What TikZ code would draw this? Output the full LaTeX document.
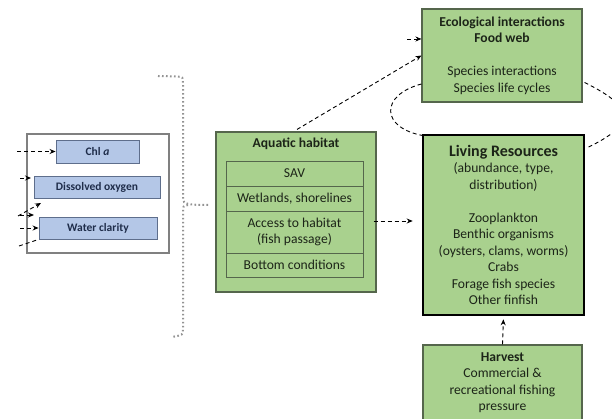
\documentclass[tikz,border=0pt]{standalone}
\usepackage{fontspec}
\setmainfont{Carlito}
\usetikzlibrary{arrows.meta,calc}
\definecolor{gfill}{HTML}{A9D18E}
\definecolor{gborder}{HTML}{55664C}
\definecolor{txt}{HTML}{1C2418}
\definecolor{bfill}{HTML}{B4C7E7}
\definecolor{bborder}{HTML}{5E6E8C}
\definecolor{btxt}{HTML}{1F2D4A}
\newcommand\mainsz{\fontsize{13.6}{16.5}\selectfont}
\newcommand\titsz{\fontsize{13.6}{16.5}\selectfont\bfseries}
\begin{document}
\begin{tikzpicture}[x=1pt,y=-1pt,
  gbox/.style={draw=gborder, fill=gfill, line width=1.1pt, inner sep=0pt, align=center, text=txt, font=\mainsz},
  rowbox/.style={draw=gborder, fill=gfill, line width=0.9pt, inner sep=0pt, align=center, text=txt, font=\mainsz, minimum width=137pt},
  bbox/.style={draw=bborder, fill=bfill, line width=0.9pt, inner sep=0pt, text=btxt, font=\fontsize{11.5}{13}\selectfont\bfseries},
  dar/.style={draw=black, line width=0.9pt, dash pattern=on 4pt off 3pt, -{Stealth[length=6pt,width=5pt]}},
  dln/.style={draw=black, line width=0.9pt, dash pattern=on 4pt off 3pt},
  dotln/.style={draw=gray!85, line width=2pt, dash pattern=on 1.6pt off 2.4pt},
]
\useasboundingbox (0,0) rectangle (612,419);

% Left panel
\node[draw=gray, line width=1.2pt, fill=white, minimum width=142pt, minimum height=119pt, inner sep=0pt] (panel) at (98,193.5) {};
\node[bbox, minimum width=83pt, minimum height=23pt] (chl) at (97.5,151.5) {Chl \textit{a}};
\node[bbox, minimum width=126pt, minimum height=22pt] (do) at (97,187) {Dissolved oxygen};
\node[bbox, minimum width=118pt, minimum height=22pt] (wc) at (98,228) {Water clarity};

\coordinate (l1) at (17,151.5);
\coordinate (l2) at (20,178);
\coordinate (l2e) at (31,178);
\coordinate (l3) at (18,216);
\coordinate (l3e) at (41,203);
\coordinate (l4) at (20,215);
\coordinate (l4e) at (34,215);
\coordinate (l5) at (20,228);
\coordinate (l6) at (19,246);
\draw[dar] (l1) -- (chl.west);
\draw[dar] (l2) -- (l2e);
\draw[dar] (l3) -- (l3e);
\draw[dar] (l4) -- (l4e);
\draw[dar] (l5) -- (wc.west);
\draw[dln] (l6) -- (wc.south west);

% Brace
\coordinate (b1) at (158,76);
\coordinate (b2) at (208,205);
\coordinate (b3) at (172,337);
\draw[dotln] (b1) -- (177,76.5) .. controls (183,77) .. (183,83) -- (183,199)
  .. controls (183,204) and (188,205) .. (b2);
\draw[dotln] (188,205) .. controls (183,206) .. (183,212) -- (183,329) .. controls (183,335) .. (b3);

% Aquatic habitat
\node[gbox, minimum width=160pt, minimum height=160pt] (aq) at (296,212) {};
\node[text=txt, font=\titsz] (aqt) at (296,144) {Aquatic habitat};
\node[rowbox, minimum height=25pt] (sav) at (294.5,173.5) {SAV};
\node[rowbox, minimum height=25pt] (wet) at (294.5,198.5) {Wetlands, shorelines};
\node[rowbox, minimum height=42pt] (acc) at (294.5,232) {Access to habitat\\(fish passage)};
\node[rowbox, minimum height=24pt] (bot) at (294.5,265) {Bottom conditions};

% Ecological interactions
\node[gbox, minimum width=160pt, minimum height=93pt] (eco) at (502,55.5)
  {\textbf{Ecological interactions}\\\textbf{Food web}\\[16.5pt]Species interactions\\Species life cycles};

% Living resources
\node[gbox, draw=black, line width=2.6pt, minimum width=161pt, minimum height=180pt] (lr) at (503.5,225)
  {{\fontsize{16}{18}\selectfont\bfseries Living Resources}\\(abundance, type,\\distribution)\\[16.5pt]Zooplankton\\Benthic organisms\\(oysters, clams, worms)\\Crabs\\Forage fish species\\Other finfish};

% Harvest
\node[gbox, minimum width=159pt, minimum height=80pt] (hv) at (502.5,385) {};
\node[text=txt, font=\mainsz, align=center] (hvt) at (502.5,382.5) {\textbf{Harvest}\\Commercial \&\\recreational fishing\\pressure};

% Connectors
\draw[dar, shorten >=9pt] ($(aq.east)+(-3,9)$) -- ($(lr.west)+(0,-4)$);
\draw[dar, shorten >=3pt] (hv.north) -- (lr.south);
\draw[dar] ($(aq.north)+(1,-2)$) -- (eco.west);
\coordinate (e0) at (407,39);
\draw[dar] (e0) -- (eco.west |- e0);
\draw[dln] ($(eco.west)+(0,28.5)$) .. controls (380,95) and (380,128) .. ($(lr.north west)+(2,2)$);
\draw[dln] ($(eco.east)+(2,27)$) .. controls (636,108) and (636,124) .. ($(lr.north east)+(2,14)$);
\end{tikzpicture}
\end{document}
